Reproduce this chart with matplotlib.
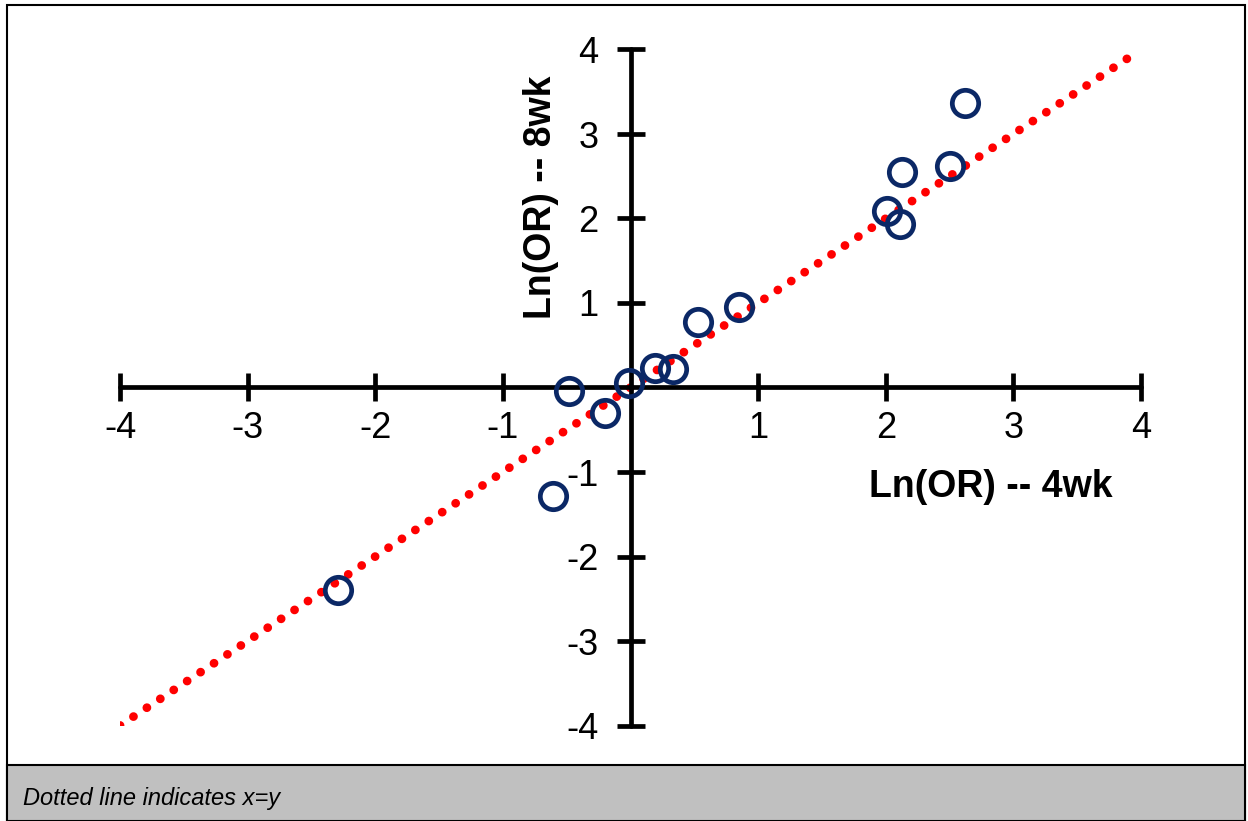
import numpy as np
import matplotlib.pyplot as plt
from matplotlib.patches import Rectangle

plt.rcParams['font.family'] = ['Liberation Sans', 'DejaVu Sans']
plt.rcParams['axes.unicode_minus'] = False

# Ln(OR) at 4 weeks vs 8 weeks
ln_or_4wk = [-2.29, -0.61, -0.48, -0.20, -0.01, 0.19, 0.33, 0.53, 0.85,
             2.01, 2.11, 2.13, 2.50, 2.62]
ln_or_8wk = [-2.40, -1.28, -0.04, -0.30, 0.05, 0.23, 0.22, 0.78, 0.95,
             2.09, 1.94, 2.55, 2.62, 3.37]
ticks = [-4, -3, -2, -1, 1, 2, 3, 4]
ref_line = [-4, 3.93]

fig = plt.figure(figsize=(12.48, 8.21), dpi=100)

# border and grey footer
fig.patches.append(Rectangle((7/1248, 0), 1238/1248, 816/821, transform=fig.transFigure,
                             fill=False, edgecolor='black', lw=1.5))
fig.patches.append(Rectangle((7/1248, 0), 1238/1248, 56/821, transform=fig.transFigure,
                             facecolor='#c0c0c0', edgecolor='black', lw=1.5))
fig.text(23/1248, 16/821, 'Dotted line indicates x=y', fontsize=17, style='italic',
         ha='left', va='baseline')

ax = fig.add_axes([120/1248, (821-725.5)/821, 1021/1248, 676/821])
ax.set_xlim(-4, 4)
ax.set_ylim(-4, 4)
ax.patch.set_alpha(0)

for s in ['top', 'right']:
    ax.spines[s].set_visible(False)
ax.spines['left'].set_position(('data', 0))
ax.spines['bottom'].set_position(('data', 0))
for s in ['left', 'bottom']:
    ax.spines[s].set_linewidth(3.4)
    ax.spines[s].set_capstyle('round')

ax.set_xticks(ticks)
ax.set_yticks(ticks)
ax.set_xticklabels([str(t) for t in ticks])
ax.set_yticklabels([str(t) for t in ticks])
ax.tick_params(direction='inout', length=20, width=3.4, labelsize=26)
ax.tick_params(axis='x', pad=7)
ax.tick_params(axis='y', pad=13)

ax.plot(ref_line, ref_line, color='#ff0000', lw=6.3, ls=(0, (0.01, 1.83)),
        dash_capstyle='round', zorder=2)
ax.plot(ln_or_4wk, ln_or_8wk, 'o', ms=19, mfc='none', mec='#0b2866', mew=3.4, zorder=3)

ax.text(3.78, -1.18, 'Ln(OR) -- 4wk', fontsize=27, fontweight='bold', ha='right', va='center')
ax.text(-0.7, 2.25, 'Ln(OR) -- 8wk', fontsize=27, fontweight='bold', ha='center',
        va='center', rotation=90)

fig.savefig('out.png', dpi=100)
